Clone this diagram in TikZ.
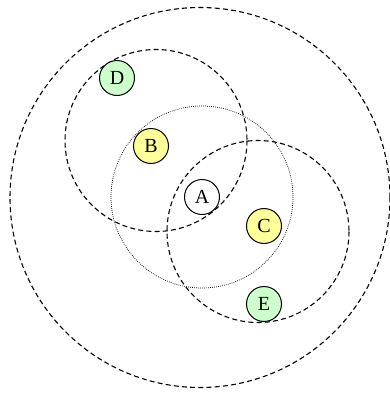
\documentclass[tikz,border=0pt]{standalone}
\usepackage{fontspec}
\setmainfont{Liberation Serif}
\begin{document}
\begin{tikzpicture}[x=1pt,y=-1pt,
  ring/.style={draw,line width=1.1pt,dash pattern=on 5pt off 3.2pt},
  dotring/.style={draw,line width=0.7pt,dash pattern=on 0.8pt off 1.2pt},
  ball/.style={circle,draw,line width=1pt,minimum size=35pt,inner sep=0pt,font=\fontsize{20}{20}\selectfont},
  yel/.style={ball,fill={rgb,255:red,255;green,255;blue,153}},
  grn/.style={ball,fill={rgb,255:red,204;green,255;blue,204}}]
\useasboundingbox (0,0) rectangle (390,394);
\draw[ring] (200,197.5) circle (190);
\draw[ring] (156,140.5) circle (91);
\draw[ring] (258,231.5) circle (91);
\draw[dotring] (202,197) circle (91);
\node[ball,fill=white] (A) at (202,197) {A};
\node[yel] (B) at (151,146) {B};
\node[yel] (C) at (264,226) {C};
\node[grn] (D) at (117,78) {D};
\node[grn] (E) at (264,304) {E};
\end{tikzpicture}
\end{document}
